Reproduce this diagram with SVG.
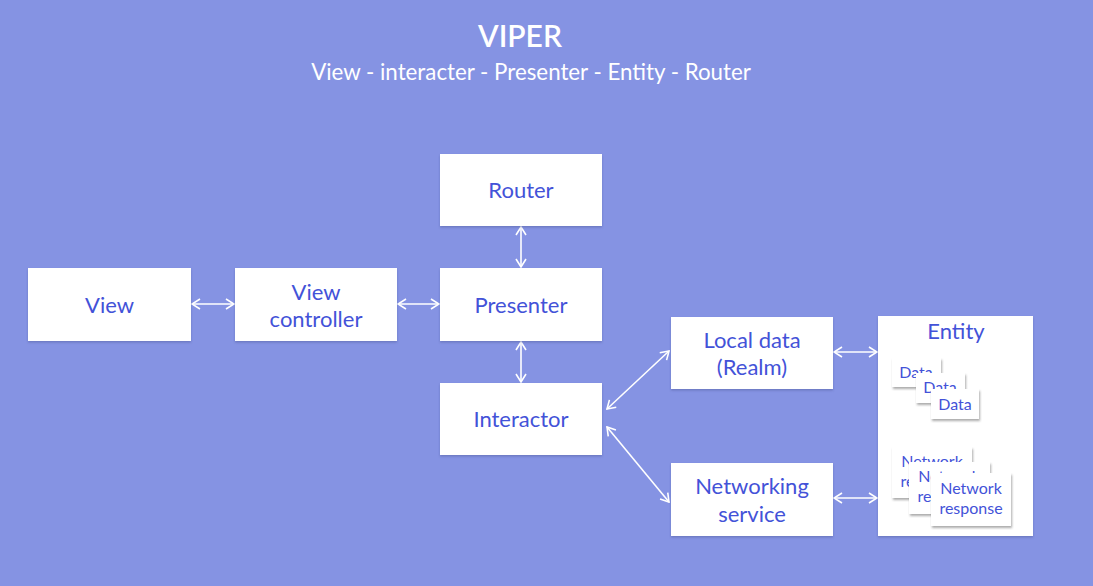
<svg xmlns="http://www.w3.org/2000/svg" width="1093" height="586" viewBox="0 0 1093 586">
<defs>
<style>
.bg{fill:#8593E3}
.box{fill:#ffffff;filter:url(#sh)}
.card{fill:#ffffff;filter:url(#sh2)}
.t{font-family:Lato,"Open Sans",sans-serif;fill:#4352D8;font-size:22px;text-anchor:middle}
.ts{font-family:Lato,"Open Sans",sans-serif;fill:#4352D8;font-size:16px;text-anchor:middle}
.w{font-family:Lato,"Open Sans",sans-serif;fill:#ffffff;text-anchor:middle}
.c{stroke:#ffffff;stroke-width:1.6;fill:none;marker-start:url(#ah);marker-end:url(#ah)}
</style>
<filter id="sh" x="-10%" y="-10%" width="120%" height="130%">
<feDropShadow dx="0" dy="1.5" stdDeviation="1" flood-color="#3a4080" flood-opacity="0.35"/>
</filter>
<filter id="sh2" x="-10%" y="-10%" width="130%" height="130%">
<feDropShadow dx="1" dy="2" stdDeviation="1" flood-color="#333" flood-opacity="0.4"/>
</filter>
<clipPath id="cd1"><rect x="892" y="358" width="49" height="15"/><rect x="892" y="373" width="24" height="14"/></clipPath>
<clipPath id="cd2"><rect x="916" y="373" width="15" height="30"/><rect x="931" y="373" width="34" height="16"/></clipPath>
<clipPath id="cn1"><rect x="892" y="447" width="80" height="15"/><rect x="892" y="462" width="17" height="36"/></clipPath>
<clipPath id="cn2"><rect x="909" y="462" width="81" height="11"/><rect x="909" y="473" width="22" height="41"/></clipPath>
<marker id="ah" viewBox="0 0 12 12" refX="11" refY="6" markerWidth="12" markerHeight="12" markerUnits="userSpaceOnUse" orient="auto-start-reverse">
<path d="M3,1 L11,6 L3,11" fill="none" stroke="#ffffff" stroke-width="1.6"/>
</marker>
</defs>
<rect class="bg" x="0" y="0" width="1093" height="586"/>
<g id="title">
<text class="w" x="520" y="47" font-size="30" font-weight="600">VIPER</text>
<text class="w" x="531" y="80" font-size="22.3">View - interacter - Presenter - Entity - Router</text>
</g>
<g id="connectors">
<line class="c" x1="192" y1="304" x2="234" y2="304"/>
<line class="c" x1="398" y1="304" x2="439" y2="304"/>
<line class="c" x1="521" y1="227" x2="521" y2="267"/>
<line class="c" x1="521" y1="342" x2="521" y2="382"/>
<line class="c" x1="607" y1="409" x2="669" y2="351"/>
<line class="c" x1="607" y1="427" x2="669" y2="502"/>
<line class="c" x1="834" y1="352" x2="877" y2="352"/>
<line class="c" x1="834" y1="498" x2="877" y2="498"/>
</g>
<g id="view">
<rect class="box" x="28" y="268" width="163" height="73"/>
<text class="t" x="109.5" y="313">View</text>
</g>
<g id="view-controller">
<rect class="box" x="235" y="268" width="162" height="73"/>
<text class="t" x="316" y="300">View</text>
<text class="t" x="316" y="327">controller</text>
</g>
<g id="router">
<rect class="box" x="440" y="154" width="162" height="72"/>
<text class="t" x="521" y="198">Router</text>
</g>
<g id="presenter">
<rect class="box" x="440" y="268" width="162" height="73"/>
<text class="t" x="521" y="313">Presenter</text>
</g>
<g id="interactor">
<rect class="box" x="440" y="383" width="162" height="72"/>
<text class="t" x="521" y="427">Interactor</text>
</g>
<g id="local-data">
<rect class="box" x="671" y="317" width="162" height="72"/>
<text class="t" x="752" y="348">Local data</text>
<text class="t" x="752" y="375">(Realm)</text>
</g>
<g id="networking-service">
<rect class="box" x="671" y="463" width="162" height="73"/>
<text class="t" x="752" y="494">Networking</text>
<text class="t" x="752" y="522">service</text>
</g>
<g id="entity">
<rect class="box" x="878" y="316" width="155" height="220"/>
<text class="t" x="956" y="339" font-size="23">Entity</text>
<rect class="card" x="892" y="358" width="49" height="29"/>
<text class="ts" x="916" y="378" clip-path="url(#cd1)">Data</text>
<rect class="card" x="916" y="373" width="49" height="30"/>
<text class="ts" x="940" y="393" clip-path="url(#cd2)">Data</text>
<rect class="card" x="931" y="389" width="48" height="30"/>
<text class="ts" x="955" y="410">Data</text>
<rect class="card" x="892" y="447" width="80" height="51"/>
<text class="ts" x="932" y="467" clip-path="url(#cn1)">Network</text>
<text class="ts" x="932" y="487" clip-path="url(#cn1)">response</text>
<rect class="card" x="909" y="462" width="81" height="52"/>
<text class="ts" x="949" y="482" clip-path="url(#cn2)">Network</text>
<text class="ts" x="949" y="502" clip-path="url(#cn2)">response</text>
<rect class="card" x="931" y="473" width="80" height="53"/>
<text class="ts" x="971" y="494">Network</text>
<text class="ts" x="971" y="514">response</text>
</g>
</svg>
